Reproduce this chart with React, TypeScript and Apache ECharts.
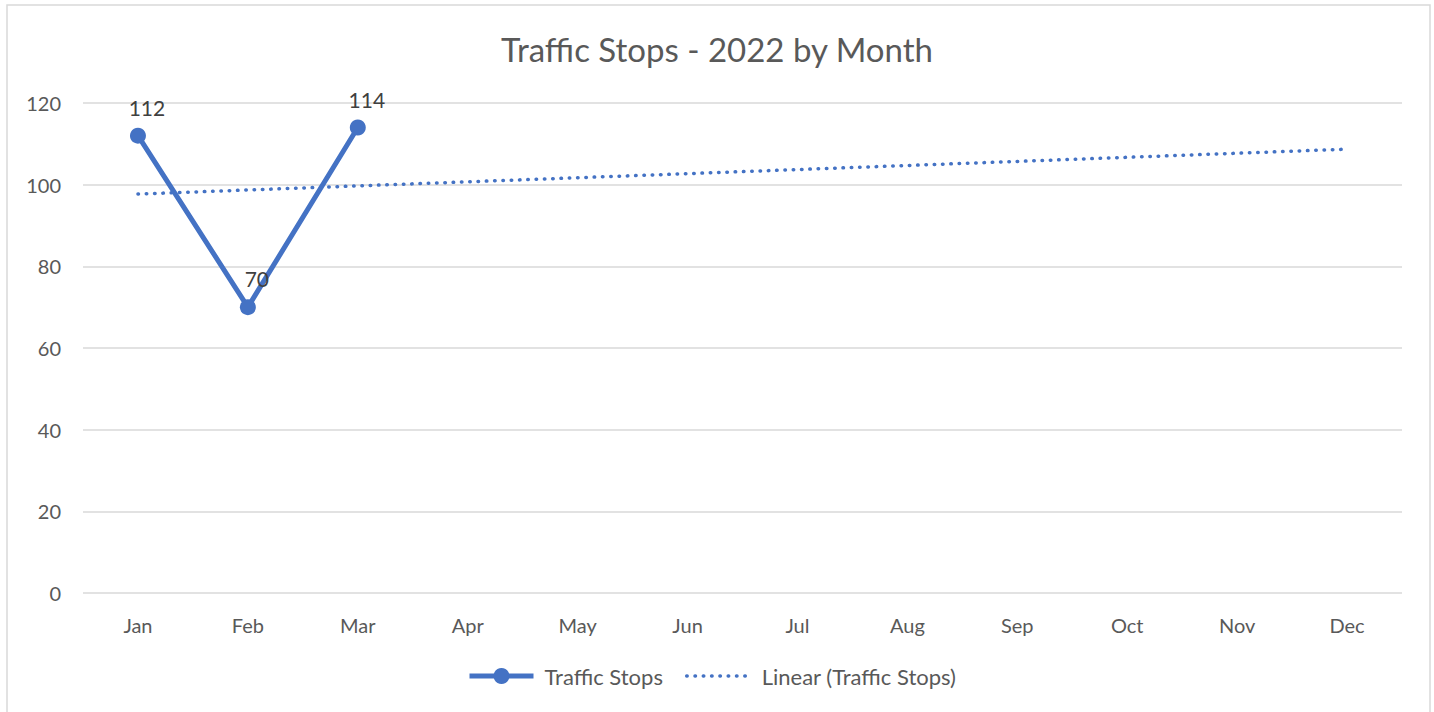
import React, { useEffect, useRef } from "react";
import * as echarts from "echarts";

const months = ["Jan", "Feb", "Mar", "Apr", "May", "Jun", "Jul", "Aug", "Sep", "Oct", "Nov", "Dec"];
const trafficStops: (number | null)[] = [112, 70, 114, null, null, null, null, null, null, null, null, null];
const linearTrend: (number | null)[] = [97.7, null, null, null, null, null, null, null, null, null, null, 108.7];
const yTicks = { min: 0, max: 120, interval: 20 };

const FONT = "Lato, 'Open Sans', sans-serif";
const BLUE = "#4472C4";
const GREY = "#595959";

export default function App() {
  const ref = useRef<HTMLDivElement>(null);
  useEffect(() => {
    if (!ref.current) return;
    const chart = echarts.init(ref.current, undefined, { renderer: "svg" });
    chart.setOption({
      animation: false,
      backgroundColor: "#ffffff",
      textStyle: { fontFamily: FONT },
      title: {
        text: "Traffic Stops - 2022 by Month",
        left: "center",
        top: 27,
        textStyle: { fontFamily: FONT, fontSize: 33, fontWeight: "normal", color: GREY },
      },
      graphic: [
        {
          type: "rect",
          shape: { x: 7, y: 5, width: 1423, height: 712 },
          style: { fill: "none", stroke: "#d9d9d9", lineWidth: 1.5 },
          silent: true,
        },
      ],
      grid: { left: 83, right: 32, top: 103, bottom: 119, containLabel: false },
      xAxis: {
        type: "category",
        data: months,
        boundaryGap: true,
        axisLine: { show: false },
        axisTick: { show: false },
        axisLabel: { color: GREY, fontSize: 20, fontFamily: FONT, margin: 22 },
      },
      yAxis: {
        type: "value",
        min: yTicks.min,
        max: yTicks.max,
        interval: yTicks.interval,
        axisLine: { show: false },
        axisTick: { show: false },
        axisLabel: { color: GREY, fontSize: 20, fontFamily: FONT, margin: 22 },
        splitLine: { lineStyle: { color: "#d9d9d9", width: 1.5 } },
      },
      legend: {
        bottom: 20,
        left: 462,
        itemWidth: 64,
        itemHeight: 20,
        itemGap: 22,
        textStyle: { color: GREY, fontSize: 22, fontFamily: FONT, padding: [0, 0, 0, 6] },
        data: [
          { name: "Traffic Stops", lineStyle: { width: 5 } },
          { name: "Linear (Traffic Stops)", itemStyle: { opacity: 0 }, lineStyle: { width: 3.5 } },
        ],
      },
      series: [
        {
          name: "Traffic Stops",
          type: "line",
          data: trafficStops,
          symbol: "circle",
          symbolSize: 16,
          itemStyle: { color: BLUE },
          lineStyle: { color: BLUE, width: 5 },
          label: {
            show: true,
            position: "top",
            distance: 10,
            offset: [9, 0],
            color: "#404040",
            fontSize: 21,
            fontFamily: FONT,
          },
          z: 3,
        },
        {
          name: "Linear (Traffic Stops)",
          type: "line",
          data: linearTrend,
          connectNulls: true,
          symbol: "none",
          itemStyle: { color: BLUE },
          lineStyle: { color: BLUE, width: 3.5, type: [0.5, 7.8], cap: "round" },
          z: 2,
        },
      ],
    });
    return () => chart.dispose();
  }, []);
  return <div ref={ref} style={{ position: "fixed", left: 0, top: 0, width: 1434, height: 712 }} />;
}
